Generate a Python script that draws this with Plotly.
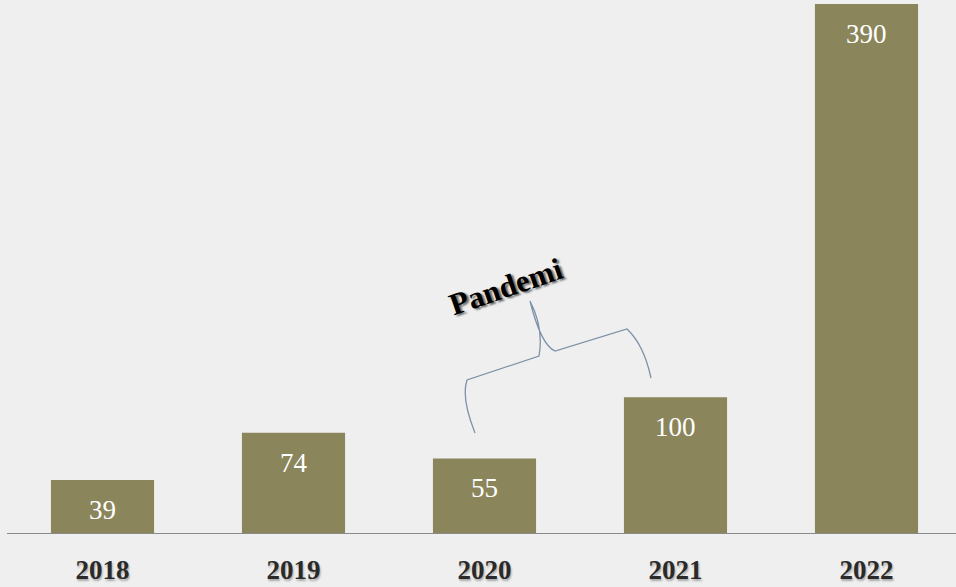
import plotly.graph_objects as go

years = ["2018", "2019", "2020", "2021", "2022"]
values = [39, 74, 55, 100, 390]

bar_color = "#8b855b"
bg = "#efefef"

fig = go.Figure()

fig.add_trace(go.Bar(
    x=list(range(len(years))),
    y=values,
    width=0.54,
    marker=dict(color=bar_color, line=dict(width=0)),
    hoverinfo="skip",
))

# value labels just under the top of each bar
for i, v in enumerate(values):
    fig.add_annotation(
        x=i, y=v, xref="x", yref="y",
        text=str(v), showarrow=False,
        yanchor="middle", yshift=-30,
        font=dict(family="Liberation Serif", size=27, color="white"),
    )

# pixel -> data helpers for the brace decoration
def px_x(p):
    return (p - 102.5) / 191.0

def px_y(p):
    return (533 - p) * 390 / 529.0

brace = [
    ("M", [(475, 433)]),
    ("Q", [(461, 398), (467, 380)]),
    ("L", [(539, 356)]),
    ("Q", [(544, 328), (530, 301)]),
    ("Q", [(541, 345), (555, 351)]),
    ("L", [(627, 329)]),
    ("Q", [(644, 345), (651, 378)]),
]
path = ""
for cmd, pts in brace:
    path += cmd + " " + " ".join(f"{px_x(a):.4f},{px_y(b):.3f}" for a, b in pts) + " "

fig.add_shape(type="path", path=path.strip(), xref="x", yref="y",
              line=dict(color="#7d91a8", width=1.3))

fig.add_annotation(
    x=px_x(506), y=px_y(286), xref="x", yref="y",
    text="<b>Pandemi</b>", showarrow=False, textangle=-19,
    font=dict(family="Liberation Serif", size=31, color="black",
              shadow="2px 2px 2px #666"),
)

fig.update_xaxes(
    range=[-0.5, -0.5 + 949 / 191.0],
    tickvals=list(range(len(years))),
    ticktext=[f"<b>{y}</b>" for y in years],
    tickfont=dict(family="Liberation Serif", size=27, color="#2a2a2a",
                  shadow="1px 2px 2px #aaa"),
    showline=True, linecolor="#8a8a8a", linewidth=1.3,
    showgrid=False, zeroline=False, ticks="", ticklabelstandoff=12,
)
fig.update_yaxes(range=[0, 390], visible=False, showgrid=False)

fig.update_layout(
    width=956, height=587,
    margin=dict(l=7, r=0, t=4, b=54),
    paper_bgcolor=bg, plot_bgcolor=bg,
    showlegend=False,
)

fig.write_html("out.html", config={"displayModeBar": False},
               post_script="document.body.style.margin='0';document.body.style.background='#efefef';")
